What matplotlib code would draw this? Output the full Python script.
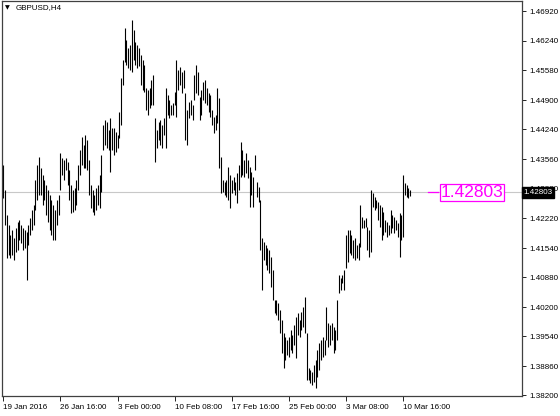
import numpy as np
import matplotlib
matplotlib.use('Agg')
import matplotlib.pyplot as plt

# GBPUSD H4 bars (high / low)
highs = [
    1.4342, 1.4286, 1.4229, 1.4206, 1.4184, 1.4195, 1.4177, 1.4199, 1.4213, 1.4218,
    1.4206, 1.4199, 1.4195, 1.4190, 1.4206, 1.4222, 1.4240, 1.4252, 1.4308, 1.4342,
    1.4361, 1.4336, 1.4320, 1.4308, 1.4297, 1.4286, 1.4274, 1.4263, 1.4252, 1.4240,
    1.4263, 1.4274, 1.4370, 1.4358, 1.4354, 1.4358, 1.4349, 1.4331, 1.4297, 1.4286,
    1.4290, 1.4308, 1.4342, 1.4376, 1.4406, 1.4388, 1.4411, 1.4399, 1.4354, 1.4297,
    1.4286, 1.4274, 1.4290, 1.4297, 1.4320, 1.4365, 1.4433, 1.4445, 1.4440, 1.4422,
    1.4449, 1.4426, 1.4426, 1.4417, 1.4411, 1.4463, 1.4540, 1.4581, 1.4653, 1.4626,
    1.4608, 1.4615, 1.4672, 1.4649, 1.4622, 1.4615, 1.4608, 1.4592, 1.4581, 1.4569,
    1.4517, 1.4513, 1.4517, 1.4535, 1.4547, 1.4449, 1.4422, 1.4440, 1.4445, 1.4433,
    1.4449, 1.4517, 1.4501, 1.4490, 1.4479, 1.4483, 1.4508, 1.4581, 1.4558, 1.4565,
    1.4554, 1.4558, 1.4506, 1.4467, 1.4485, 1.4490, 1.4479, 1.4547, 1.4569, 1.4554,
    1.4497, 1.4513, 1.4531, 1.4535, 1.4517, 1.4506, 1.4501, 1.4467, 1.4451, 1.4456,
    1.4517, 1.4495, 1.4361, 1.4308, 1.4304, 1.4308, 1.4338, 1.4320, 1.4308, 1.4315,
    1.4304, 1.4324, 1.4342, 1.4395, 1.4376, 1.4354, 1.4370, 1.4354, 1.4338, 1.4327,
    1.4315, 1.4365, 1.4304, 1.4293, 1.4263, 1.4177, 1.4168, 1.4161, 1.4154, 1.4150,
    1.4134, 1.4104, 1.4036, 1.4036, 1.4029, 1.4013, 1.3991, 1.3961, 1.3952, 1.3945,
    1.3952, 1.3968, 1.3957, 1.3979, 1.3997, 1.4006, 1.3991, 1.4009, 1.4020, 1.4043,
    1.3961, 1.3882, 1.3877, 1.3873, 1.3888, 1.3900, 1.3923, 1.3938, 1.3945, 1.3952,
    1.3945, 1.4020, 1.3984, 1.3979, 1.3984, 1.3975, 1.3968, 1.4036, 1.4093, 1.4086,
    1.4093, 1.4104, 1.4184, 1.4195, 1.4195, 1.4184, 1.4172, 1.4177, 1.4161, 1.4165,
    1.4252, 1.4224, 1.4218, 1.4222, 1.4202, 1.4195, 1.4286, 1.4279, 1.4270, 1.4263,
    1.4258, 1.4252, 1.4247, 1.4236, 1.4218, 1.4213, 1.4206, 1.4240, 1.4229, 1.4224,
    1.4218, 1.4211, 1.4233, 1.4229, 1.4320, 1.4302, 1.4297, 1.4290, 1.4286,
]
lows = [
    1.4268, 1.4206, 1.4131, 1.4138, 1.4131, 1.4138, 1.4127, 1.4145, 1.4150, 1.4172,
    1.4165, 1.4150, 1.4154, 1.4081, 1.4161, 1.4184, 1.4195, 1.4206, 1.4240, 1.4263,
    1.4274, 1.4274, 1.4252, 1.4263, 1.4229, 1.4213, 1.4195, 1.4184, 1.4172, 1.4172,
    1.4206, 1.4229, 1.4286, 1.4320, 1.4308, 1.4331, 1.4297, 1.4263, 1.4233, 1.4236,
    1.4240, 1.4252, 1.4286, 1.4320, 1.4342, 1.4336, 1.4336, 1.4331, 1.4274, 1.4245,
    1.4236, 1.4229, 1.4240, 1.4252, 1.4245, 1.4281, 1.4376, 1.4388, 1.4381, 1.4376,
    1.4327, 1.4376, 1.4365, 1.4372, 1.4381, 1.4404, 1.4433, 1.4524, 1.4576, 1.4569,
    1.4563, 1.4558, 1.4554, 1.4581, 1.4569, 1.4563, 1.4567, 1.4524, 1.4513, 1.4508,
    1.4467, 1.4456, 1.4472, 1.4479, 1.4479, 1.4349, 1.4381, 1.4399, 1.4388, 1.4381,
    1.4411, 1.4381, 1.4456, 1.4449, 1.4456, 1.4456, 1.4479, 1.4451, 1.4513, 1.4524,
    1.4506, 1.4517, 1.4399, 1.4388, 1.4449, 1.4456, 1.4445, 1.4490, 1.4506, 1.4501,
    1.4445, 1.4456, 1.4490, 1.4483, 1.4479, 1.4463, 1.4451, 1.4433, 1.4415, 1.4422,
    1.4438, 1.4336, 1.4279, 1.4281, 1.4274, 1.4270, 1.4263, 1.4245, 1.4279, 1.4286,
    1.4274, 1.4256, 1.4286, 1.4315, 1.4320, 1.4315, 1.4324, 1.4313, 1.4247, 1.4274,
    1.4247, 1.4331, 1.4270, 1.4258, 1.4150, 1.4059, 1.4127, 1.4115, 1.4104, 1.4097,
    1.4066, 1.4036, 1.4006, 1.4002, 1.3991, 1.3961, 1.3916, 1.3882, 1.3900, 1.3911,
    1.3907, 1.3923, 1.3916, 1.3934, 1.3904, 1.3957, 1.3952, 1.3968, 1.3975, 1.3961,
    1.3854, 1.3854, 1.3848, 1.3843, 1.3850, 1.3836, 1.3861, 1.3877, 1.3900, 1.3907,
    1.3911, 1.3945, 1.3929, 1.3934, 1.3945, 1.3916, 1.3923, 1.3945, 1.4052, 1.4059,
    1.4075, 1.4059, 1.4109, 1.4122, 1.4143, 1.4138, 1.4131, 1.4127, 1.4131, 1.4127,
    1.4156, 1.4199, 1.4199, 1.4202, 1.4150, 1.4134, 1.4145, 1.4247, 1.4240, 1.4245,
    1.4218, 1.4202, 1.4172, 1.4184, 1.4190, 1.4179, 1.4184, 1.4188, 1.4199, 1.4188,
    1.4195, 1.4179, 1.4134, 1.4172, 1.4179, 1.4274, 1.4270, 1.4268, 1.4272,
]
last_price = 1.42803

# time labels, one every 32 bars
date_labels = ['19 Jan 2016', '26 Jan 16:00', '3 Feb 00:00', '10 Feb 08:00',
               '17 Feb 16:00', '25 Feb 00:00', '3 Mar 08:00', '10 Mar 16:00']
label_step = 32

price_ticks = [1.4692, 1.4624, 1.4558, 1.4490, 1.4424, 1.4356, 1.4288,
               1.4222, 1.4154, 1.4088, 1.4020, 1.3954, 1.3886, 1.3820]

font = 'Liberation Sans'
fs = 5.8

W, H = 560, 416
fig = plt.figure(figsize=(W / 100, H / 100), dpi=100)
fig.patch.set_facecolor('white')
ax = fig.add_axes([2 / W, (H - 395.5) / H, 520 / W, 395 / H])

x = np.arange(len(highs))
ax.vlines(x, lows, highs, color='black', linewidth=0.8)

# current price line
ax.axhline(last_price, color='#c8c8c8', linewidth=0.8, zorder=0)

ax.set_xlim(-0.73, 290.6)
ax.set_ylim(1.38192, 1.47159)

for s in ax.spines.values():
    s.set_color('#404040')
    s.set_linewidth(0.9)

ax.yaxis.tick_right()
ax.set_yticks(price_ticks)
ax.set_yticklabels(['%.5f' % v for v in price_ticks], fontsize=fs, family=font)
ax.tick_params(axis='y', length=3, width=0.6, pad=2, colors='black')

ax.set_xticks(np.arange(len(date_labels)) * label_step)
ax.set_xticklabels(date_labels, fontsize=fs, family=font, ha='left')
ax.tick_params(axis='x', length=3.5, width=0.6, pad=2.5, colors='black')

# price label on the axis
ax.text(1 + 1.5 / 520, last_price, '%.5f' % last_price, transform=ax.get_yaxis_transform(),
        color='white', fontsize=fs, family=font, va='center', ha='left',
        bbox=dict(facecolor='black', edgecolor='black', pad=1.2), clip_on=False, zorder=5)

# magenta right price label
last_idx = len(highs) - 1
ax.plot([last_idx + 10, last_idx + 15.5], [last_price, last_price], color='#ff00ff', linewidth=0.9)
ax.text(last_idx + 17, last_price, '%.5f' % last_price, color='#ff00ff', fontsize=12.5,
        family=font, va='center', ha='left',
        bbox=dict(facecolor='white', edgecolor='#ff00ff', pad=0.8, linewidth=0.9))

# chart title
fig.text(5 / W, 1 - 8 / H, '\u25bc', fontsize=4.5, va='center', ha='left', color='black')
fig.text(16 / W, 1 - 8 / H, 'GBPUSD,H4', fontsize=fs, family=font, va='center', ha='left')

fig.savefig('out.png', dpi=100)
